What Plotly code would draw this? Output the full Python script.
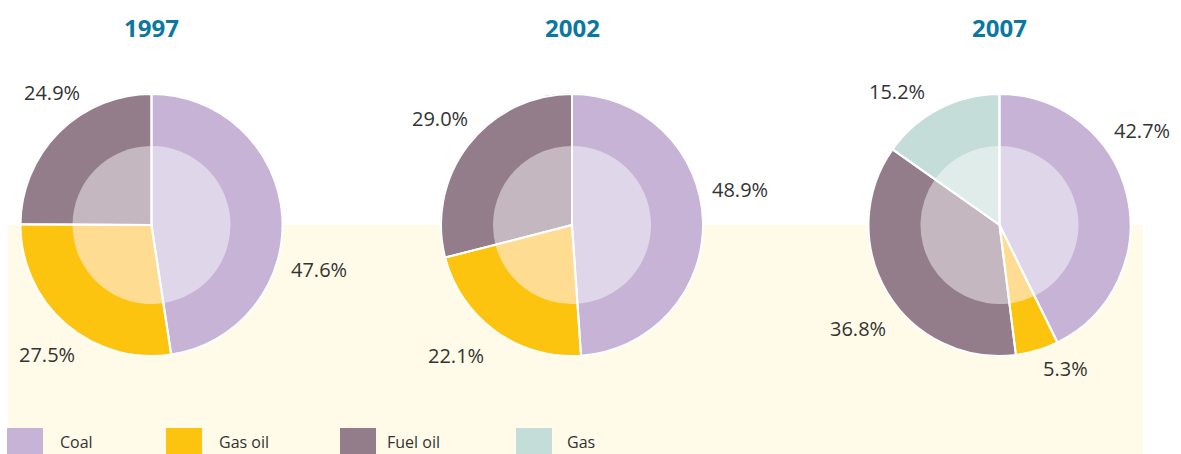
import plotly.graph_objects as go

# ---- data ----
years = ["1997", "2002", "2007"]
fuels = ["Coal", "Gas oil", "Fuel oil", "Gas"]
share_1997 = [47.6, 27.5, 24.9, 0.0]
share_2002 = [48.9, 22.1, 29.0, 0.0]
share_2007 = [42.7, 5.3, 36.8, 15.2]
shares = [share_1997, share_2002, share_2007]

# ---- styles ----
outer_colors = ["#c7b3d6", "#fdc40f", "#937d8a", "#c5ddd8"]
inner_colors = ["#dfd6ea", "#fedd93", "#c4b7c0", "#e0ecea"]

W, H = 1181, 454
centers_px = [(151.5, 225), (572, 225), (999.5, 225)]
R_OUT, R_IN = 131.5, 79

# label pixel positions per year, in fuel order (None when absent)
label_pos = [
    [(319, 269), (47, 354), (52, 92), None],
    [(740, 189), (456, 355), (440, 118), None],
    [(1142, 130), (1065, 368), (858, 328), (897, 91)],
]

def px_x(x):
    return x / W

def px_y(y):
    return 1 - y / H

def dom(cx, cy, r):
    return dict(x=[px_x(cx - r), px_x(cx + r)], y=[px_y(cy + r), px_y(cy - r)])

fig = go.Figure()

# background band
fig.add_shape(type="rect", xref="paper", yref="paper",
              x0=px_x(8), x1=px_x(1143), y0=0, y1=px_y(225),
              fillcolor="#fffbe8", line_width=0, layer="below")

for i, yr in enumerate(years):
    cx, cy = centers_px[i]
    vals = [v for v in shares[i] if v > 0]
    labs = [f for f, v in zip(fuels, shares[i]) if v > 0]
    oc = [c for c, v in zip(outer_colors, shares[i]) if v > 0]
    ic = [c for c, v in zip(inner_colors, shares[i]) if v > 0]
    common = dict(values=vals, labels=labs, sort=False, direction="clockwise",
                  rotation=0, textinfo="none", showlegend=False)
    # outer ring (full pie)
    fig.add_trace(go.Pie(**common, hoverinfo="label+percent",
                         marker=dict(colors=oc, line=dict(width=0)),
                         domain=dom(cx, cy, R_OUT)))
    # lighter inner disc
    fig.add_trace(go.Pie(**common, hoverinfo="skip",
                         marker=dict(colors=ic, line=dict(width=0)),
                         domain=dom(cx, cy, R_IN)))
    # white radial separators
    fig.add_trace(go.Pie(**common, hoverinfo="skip",
                         marker=dict(colors=["rgba(0,0,0,0)"] * len(vals),
                                     line=dict(color="white", width=2)),
                         domain=dom(cx, cy, R_OUT - 0.5)))
    # title
    fig.add_annotation(x=px_x(cx), y=px_y(27), xref="paper", yref="paper",
                       text=f"<b>{yr}</b>", showarrow=False,
                       font=dict(family="Open Sans", size=24, color="#0a78a0"),
                       xanchor="center", yanchor="middle")
    # percent labels
    for j, v in enumerate(shares[i]):
        pos = label_pos[i][j]
        if v <= 0 or pos is None:
            continue
        fig.add_annotation(x=px_x(pos[0]), y=px_y(pos[1]), xref="paper", yref="paper",
                           text=f"{v:.1f}%", showarrow=False,
                           font=dict(family="Open Sans", size=20, color="#333333"),
                           xanchor="center", yanchor="middle")

# legend
legend_sq_x = [7, 166, 340, 516]
legend_txt_x = [58, 217, 385, 565]
for k, f in enumerate(fuels):
    fig.add_shape(type="rect", xref="paper", yref="paper",
                  x0=px_x(legend_sq_x[k]), x1=px_x(legend_sq_x[k] + 36),
                  y0=px_y(454), y1=px_y(428),
                  fillcolor=outer_colors[k], line_width=0)
    fig.add_annotation(x=px_x(legend_txt_x[k]), y=px_y(442), xref="paper", yref="paper",
                       text=f, showarrow=False, xanchor="left", yanchor="middle",
                       font=dict(family="Open Sans", size=16, color="#333333"))

fig.update_layout(width=W, height=H, margin=dict(l=0, r=0, t=0, b=0),
                  paper_bgcolor="white", plot_bgcolor="white")

fig.write_html("out.html", config={"displayModeBar": False},
               post_script="document.body.style.margin='0';document.body.style.overflow='hidden';")
